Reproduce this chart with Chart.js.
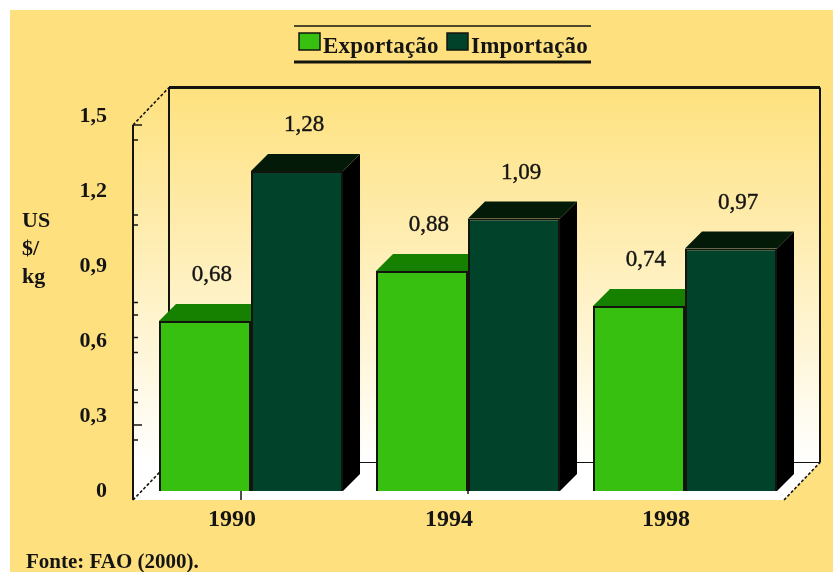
<!DOCTYPE html>
<html lang="pt">
<head>
<meta charset="utf-8">
<title>Preços de exportação e importação</title>
<style>
  html, body { margin: 0; padding: 0; background: #ffffff; }
  canvas { display: block; }
</style>
<script src="https://cdn.jsdelivr.net/npm/chart.js@4/dist/chart.umd.min.js"></script>
</head>
<body>
<canvas id="grafico" width="833" height="572"></canvas>
<script>
// Series and labels
const anos = ['1990', '1994', '1998'];
const exportacao = [0.68, 0.88, 0.74];
const importacao = [1.28, 1.09, 0.97];
const rotulosY = ['0', '0,3', '0,6', '0,9', '1,2', '1,5'];
const unidade = ['US', '$/', 'kg'];
const fonte = 'Fonte: FAO (2000).';

// Long and short marks along the front axis, in axis units
const marcasLongas = [1.5, 0.3];
const marcasCurtas = [1.44, 1.14, 1.1, 0.79, 0.74, 0.65, 0.59, 0.44, 0.39, 0.24];

// Palette
const fundo = '#FEE17E';
const verdeClaro = '#37C00F', verdeClaroTopo = '#168000';
const verdeEscuro = '#00432A', verdeEscuroTopo = '#031A08';
const contorno = '#14140f';
const serif = '"Liberation Serif", "Times New Roman", serif';

// Depth of the 3D box, relative to the plane the bars stand on
const frente = { dx: -9.5, dy: 9 };
const fundoCaixa = { dx: 26.5, dy: -28.5 };
const barraProf = { dx: 17, dy: 17 };

function poligono(ctx, pts, cor) {
  ctx.beginPath();
  pts.forEach((p, i) => i ? ctx.lineTo(p[0], p[1]) : ctx.moveTo(p[0], p[1]));
  ctx.closePath();
  ctx.fillStyle = cor;
  ctx.fill();
}

function linha(ctx, x1, y1, x2, y2, largura, tracejado) {
  ctx.beginPath();
  ctx.setLineDash(tracejado || []);
  ctx.moveTo(x1, y1);
  ctx.lineTo(x2, y2);
  ctx.lineWidth = largura;
  ctx.strokeStyle = contorno;
  ctx.stroke();
  ctx.setLineDash([]);
}

// Page, walls and floor of the 3D box
const caixa3d = {
  id: 'caixa3d',
  beforeDraw(chart) {
    const { ctx, chartArea: a, width, height, scales: { x, y } } = chart;
    ctx.save();
    ctx.fillStyle = fundo;
    ctx.fillRect(10, 10, width - 10, height - 10);

    const fL = a.left + frente.dx, fR = a.right + frente.dx;
    const fB = a.bottom + frente.dy, fT = a.top + frente.dy;
    const bL = a.left + fundoCaixa.dx, bR = a.right + fundoCaixa.dx;
    const bB = a.bottom + fundoCaixa.dy, bT = a.top + fundoCaixa.dy;

    const grad = ctx.createLinearGradient(0, bT, 0, bB);
    grad.addColorStop(0, fundo);
    grad.addColorStop(1, '#FFFFFF');
    poligono(ctx, [[bL, bT], [bR, bT], [bR, bB], [bL, bB]], grad);
    poligono(ctx, [[fL, fT], [bL, bT], [bL, bB], [fL, fB]], grad);
    poligono(ctx, [[fL, fB], [fR, fB], [bR, bB], [bL, bB]], '#FFFFFF');

    linha(ctx, bL, bT, bR, bT, 3);
    linha(ctx, bL, bT, bL, bB, 2);
    linha(ctx, bR, bT, bR, bB, 2);
    linha(ctx, bL, bB, bR, bB, 1);
    linha(ctx, fL, fT, fL, fB, 2);
    linha(ctx, fL, fT, bL, bT, 1.6, [3, 2]);
    linha(ctx, fL, fB, bL, bB, 1.6, [3, 2]);
    linha(ctx, fR, fB, bR, bB, 1.6, [3, 2]);

    marcasLongas.forEach(v => {
      const py = y.getPixelForValue(v) + frente.dy;
      linha(ctx, fL, py, fL + 9, py, 1.5);
    });
    marcasCurtas.forEach(v => {
      const py = y.getPixelForValue(v) + frente.dy;
      linha(ctx, fL, py, fL + 5, py, 1.5);
    });

    // Small category marks on the floor, for the first two groups
    const px0 = x.getPixelForValue(0) - 10;
    linha(ctx, px0, a.bottom, px0, fB, 1.5);
    const px1 = x.getPixelForValue(1);
    linha(ctx, px1, a.bottom, px1, a.bottom + 3, 1.5);
    ctx.restore();
  },
  // Top and side faces come before the front faces so neighbouring bars overlap correctly
  beforeDatasetsDraw(chart) {
    const { ctx } = chart;
    ctx.save();
    [[0, verdeClaroTopo, '#000000'], [1, verdeEscuroTopo, '#000000']].forEach(([i, topo, lado]) => {
      chart.getDatasetMeta(i).data.forEach(b => {
        const x0 = b.x - b.width / 2, x1 = b.x + b.width / 2;
        const { dx, dy } = barraProf;
        poligono(ctx, [[x1, b.y], [x1 + dx, b.y - dy], [x1 + dx, b.base - dy], [x1, b.base]], lado);
        poligono(ctx, [[x0, b.y], [x0 + dx, b.y - dy], [x1 + dx, b.y - dy], [x1, b.y]], topo);
      });
    });
    ctx.restore();
  },
  // Value labels, axis unit, legend and source line
  afterDraw(chart) {
    const { ctx } = chart;
    ctx.save();
    ctx.fillStyle = '#141414';

    ctx.font = '23px ' + serif;
    ctx.textAlign = 'center';
    ctx.textBaseline = 'middle';
    ctx.strokeStyle = '#141414';
    chart.data.datasets.forEach((ds, i) => {
      chart.getDatasetMeta(i).data.forEach((b, j) => {
        const texto = ds.data[j].toFixed(2).replace('.', ',');
        ctx.lineWidth = 0.4;
        ctx.strokeText(texto, b.x + 7, b.y - 46);
        ctx.fillText(texto, b.x + 7, b.y - 46);
      });
    });

    ctx.textAlign = 'left';
    ctx.textBaseline = 'alphabetic';
    ctx.font = 'bold 22px ' + serif;
    [227, 255, 283].forEach((base, i) => ctx.fillText(unidade[i], 22, base));
    ctx.font = 'bold 21px ' + serif;
    ctx.fillText(fonte, 26, 568);

    // Legend between two rules
    linha(ctx, 294, 26, 591, 26, 1.5);
    linha(ctx, 294, 62, 591, 62, 3);
    const posicoes = [{ caixa: 299, texto: 323 }, { caixa: 447, texto: 471 }];
    ctx.font = 'bold 23px ' + serif;
    ctx.letterSpacing = '0.2px';
    chart.data.datasets.forEach((ds, i) => {
      const p = posicoes[i];
      ctx.fillStyle = ds.backgroundColor;
      ctx.fillRect(p.caixa, 33, 21, 17);
      ctx.lineWidth = 1.5;
      ctx.strokeStyle = contorno;
      ctx.strokeRect(p.caixa, 33, 21, 17);
      ctx.fillStyle = '#141414';
      ctx.fillText(ds.label, p.texto, 53);
    });
    ctx.restore();
  }
};

new Chart(document.getElementById('grafico'), {
  type: 'bar',
  plugins: [caixa3d],
  data: {
    labels: anos,
    datasets: [
      { label: 'Exportação', data: exportacao, backgroundColor: verdeClaro },
      { label: 'Importação', data: importacao, backgroundColor: verdeEscuro }
    ]
  },
  options: {
    responsive: false,
    animation: false,
    layout: { padding: { top: 116, right: 39.5, left: 0, bottom: 0 } },
    plugins: { legend: { display: false }, title: { display: false }, tooltip: { enabled: false } },
    datasets: {
      bar: {
        categoryPercentage: 0.848,
        barPercentage: 1,
        borderColor: contorno,
        borderWidth: 2
      }
    },
    scales: {
      x: {
        afterFit(s) { s.height = 81; },
        grid: { display: false, drawTicks: false },
        border: { display: false },
        ticks: {
          padding: 14,
          labelOffset: -19,
          maxRotation: 0,
          color: '#141414',
          font: { family: serif, size: 24, weight: 'bold' }
        }
      },
      y: {
        min: 0,
        max: 1.5,
        afterFit(s) { s.width = 142.5; },
        grid: { display: false, drawTicks: false },
        border: { display: false },
        ticks: {
          stepSize: 0.3,
          padding: 35.5,
          color: '#141414',
          font: { family: serif, size: 22, weight: 'bold' },
          callback: (v, i) => rotulosY[i]
        }
      }
    }
  }
});
</script>
</body>
</html>
